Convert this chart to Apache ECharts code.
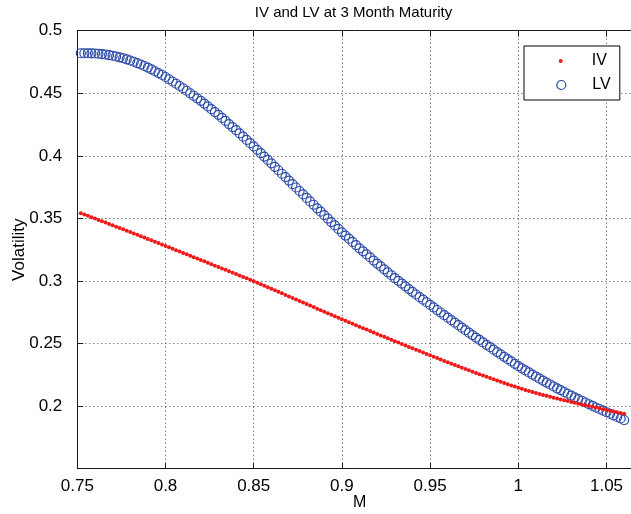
<!DOCTYPE html>
<html>
<head>
<meta charset="utf-8">
<script src="https://cdn.jsdelivr.net/npm/echarts@6/dist/echarts.min.js"></script>
<style>
html,body{margin:0;padding:0;background:#fff;}
#chart{width:631px;height:514px;}
</style>
</head>
<body>
<div id="chart"></div>
<script>
// Moneyness values
var M = [
0.752,0.754,0.756,0.758,0.760,
0.762,0.764,0.766,0.768,0.770,
0.772,0.774,0.776,0.778,0.780,
0.782,0.784,0.786,0.788,0.790,
0.792,0.794,0.796,0.798,0.800,
0.802,0.804,0.806,0.808,0.810,
0.812,0.814,0.816,0.818,0.820,
0.822,0.824,0.826,0.828,0.830,
0.832,0.834,0.836,0.838,0.840,
0.842,0.844,0.846,0.848,0.850,
0.852,0.854,0.856,0.858,0.860,
0.862,0.864,0.866,0.868,0.870,
0.872,0.874,0.876,0.878,0.880,
0.882,0.884,0.886,0.888,0.890,
0.892,0.894,0.896,0.898,0.900,
0.902,0.904,0.906,0.908,0.910,
0.912,0.914,0.916,0.918,0.920,
0.922,0.924,0.926,0.928,0.930,
0.932,0.934,0.936,0.938,0.940,
0.942,0.944,0.946,0.948,0.950,
0.952,0.954,0.956,0.958,0.960,
0.962,0.964,0.966,0.968,0.970,
0.972,0.974,0.976,0.978,0.980,
0.982,0.984,0.986,0.988,0.990,
0.992,0.994,0.996,0.998,1.000,
1.002,1.004,1.006,1.008,1.010,
1.012,1.014,1.016,1.018,1.020,
1.022,1.024,1.026,1.028,1.030,
1.032,1.034,1.036,1.038,1.040,
1.042,1.044,1.046,1.048,1.050,
1.052,1.054,1.056,1.058,1.060
];
// Implied volatility
var IV = [
0.3542,0.3531,0.3521,0.3510,0.3499,
0.3488,0.3477,0.3467,0.3456,0.3445,
0.3434,0.3423,0.3413,0.3402,0.3391,
0.3380,0.3369,0.3358,0.3347,0.3336,
0.3325,0.3314,0.3303,0.3291,0.3280,
0.3269,0.3258,0.3246,0.3235,0.3224,
0.3213,0.3202,0.3190,0.3179,0.3168,
0.3157,0.3145,0.3134,0.3122,0.3111,
0.3100,0.3089,0.3077,0.3066,0.3055,
0.3044,0.3032,0.3021,0.3009,0.2998,
0.2986,0.2974,0.2962,0.2950,0.2938,
0.2926,0.2914,0.2901,0.2889,0.2877,
0.2865,0.2853,0.2840,0.2828,0.2816,
0.2804,0.2792,0.2779,0.2767,0.2755,
0.2743,0.2731,0.2718,0.2706,0.2694,
0.2682,0.2670,0.2659,0.2647,0.2635,
0.2623,0.2612,0.2600,0.2589,0.2577,
0.2565,0.2554,0.2542,0.2531,0.2519,
0.2508,0.2496,0.2485,0.2473,0.2462,
0.2451,0.2440,0.2429,0.2417,0.2406,
0.2395,0.2384,0.2373,0.2361,0.2350,
0.2339,0.2328,0.2318,0.2307,0.2296,
0.2286,0.2275,0.2265,0.2254,0.2244,
0.2234,0.2224,0.2214,0.2204,0.2194,
0.2184,0.2175,0.2165,0.2156,0.2146,
0.2138,0.2129,0.2121,0.2113,0.2104,
0.2097,0.2089,0.2082,0.2074,0.2067,
0.2060,0.2053,0.2046,0.2040,0.2033,
0.2027,0.2020,0.2014,0.2008,0.2001,
0.1995,0.1989,0.1983,0.1976,0.1970,
0.1964,0.1958,0.1952,0.1945,0.1939
];
// Local volatility
var LV = [
0.4820,0.4820,0.4820,0.4819,0.4818,
0.4816,0.4813,0.4810,0.4805,0.4800,
0.4794,0.4787,0.4780,0.4771,0.4762,
0.4752,0.4741,0.4730,0.4718,0.4705,
0.4691,0.4676,0.4661,0.4646,0.4630,
0.4612,0.4594,0.4576,0.4558,0.4540,
0.4520,0.4500,0.4480,0.4460,0.4440,
0.4418,0.4395,0.4373,0.4350,0.4328,
0.4303,0.4279,0.4254,0.4230,0.4205,
0.4179,0.4153,0.4127,0.4101,0.4075,
0.4048,0.4021,0.3994,0.3967,0.3940,
0.3912,0.3885,0.3857,0.3830,0.3802,
0.3774,0.3747,0.3719,0.3692,0.3664,
0.3636,0.3609,0.3581,0.3554,0.3526,
0.3499,0.3471,0.3444,0.3416,0.3389,
0.3363,0.3338,0.3312,0.3287,0.3261,
0.3237,0.3212,0.3188,0.3163,0.3139,
0.3116,0.3093,0.3069,0.3046,0.3023,
0.3001,0.2979,0.2957,0.2935,0.2913,
0.2892,0.2871,0.2851,0.2830,0.2809,
0.2789,0.2768,0.2748,0.2727,0.2707,
0.2687,0.2667,0.2647,0.2627,0.2607,
0.2587,0.2568,0.2548,0.2529,0.2509,
0.2490,0.2471,0.2451,0.2432,0.2413,
0.2394,0.2375,0.2357,0.2338,0.2319,
0.2302,0.2285,0.2269,0.2252,0.2235,
0.2219,0.2204,0.2188,0.2173,0.2157,
0.2142,0.2128,0.2113,0.2099,0.2084,
0.2070,0.2056,0.2043,0.2029,0.2015,
0.2002,0.1989,0.1977,0.1964,0.1951,
0.1939,0.1926,0.1914,0.1901,0.1889
];
var TITLE = 'IV and LV at 3 Month Maturity';
var X_NAME = 'M';
var Y_NAME = 'Volatility';
var SERIES_NAMES = ['IV', 'LV'];

var FONT = 'Liberation Sans, Arial, Helvetica, sans-serif';
var ivData = M.map(function (m, i) { return [m, IV[i]]; });
var lvData = M.map(function (m, i) { return [m, LV[i]]; });

var axisLine = { show: true, lineStyle: { color: '#1a1a1a', width: 1 } };
var tick = { show: true, inside: true, length: 6, lineStyle: { color: '#1a1a1a', width: 1 } };
var grid = { show: true, lineStyle: { color: '#444', width: 1, type: [1, 3] } };

function legendText(gap) {
  return {
    fontFamily: FONT, fontSize: 16, color: '#000',
    rich: { g: { width: gap, fontSize: 16 }, n: { fontFamily: FONT, fontSize: 16, color: '#000' } }
  };
}

var chart = echarts.init(document.getElementById('chart'), null, { renderer: 'canvas' });
chart.setOption({
  animation: false,
  backgroundColor: '#fff',
  textStyle: { fontFamily: FONT },
  title: {
    text: TITLE,
    left: 353.5,
    top: 5,
    padding: 0,
    textAlign: 'center',
    textStyle: { fontFamily: FONT, fontSize: 15, fontWeight: 'normal', color: '#000' }
  },
  grid: { left: 77.3, top: 30.7, width: 564.5, height: 438, containLabel: false, outerBoundsMode: 'none' },
  legend: [
    {
      data: [SERIES_NAMES[0]],
      left: 524, top: 46,
      orient: 'vertical',
      padding: [7, 13, 31, 34.7],
      itemWidth: 4, itemHeight: 4,
      backgroundColor: '#fff',
      borderColor: '#000', borderWidth: 1, borderRadius: 0,
      formatter: function (name) { return '{g| }{n|' + name + '}'; },
      textStyle: legendText(24),
      selectedMode: false, z: 4
    },
    {
      data: [SERIES_NAMES[1]],
      left: 556.2, top: 77,
      orient: 'vertical',
      padding: 0,
      itemWidth: 9, itemHeight: 9,
      itemStyle: { borderWidth: 1.2 },
      formatter: function (name) { return '{g| }{n|' + name + '}'; },
      textStyle: legendText(21.5),
      selectedMode: false, z: 5
    }
  ],
  xAxis: [
    {
      type: 'value', position: 'bottom', min: 0.75, max: 1.07, interval: 0.05,
      axisLine: axisLine, axisTick: tick, splitLine: grid,
      axisLabel: { fontFamily: FONT, fontSize: 17, color: '#000', margin: 9, showMaxLabel: false },
      name: X_NAME, nameLocation: 'middle', nameGap: 26, nameMoveOverlap: false,
      nameTextStyle: { fontFamily: FONT, fontSize: 16, color: '#000' }
    },
    {
      type: 'value', position: 'top', min: 0.75, max: 1.07, interval: 0.05,
      axisLine: axisLine, axisTick: tick, splitLine: { show: false },
      axisLabel: { show: false }
    }
  ],
  yAxis: [
    {
      type: 'value', position: 'left', min: 0.15, max: 0.5, interval: 0.05,
      axisLine: axisLine, axisTick: tick, splitLine: grid,
      axisLabel: { fontFamily: FONT, fontSize: 17, color: '#000', margin: 15, showMinLabel: false },
      name: Y_NAME, nameLocation: 'middle', nameGap: 49, nameRotate: 90, nameMoveOverlap: false,
      nameTextStyle: { fontFamily: FONT, fontSize: 17, color: '#000' }
    },
    {
      type: 'value', position: 'right', min: 0.15, max: 0.5, interval: 0.05,
      axisLine: axisLine, axisTick: tick, splitLine: { show: false },
      axisLabel: { show: false }
    }
  ],
  series: [
    {
      name: SERIES_NAMES[1], type: 'scatter', xAxisIndex: 0, yAxisIndex: 0,
      data: lvData, symbol: 'circle', symbolSize: 9,
      itemStyle: { color: 'transparent', borderColor: '#2a4aa8', borderWidth: 1.2, opacity: 1 },
      emphasis: { disabled: true }, z: 2
    },
    {
      name: SERIES_NAMES[0], type: 'scatter', xAxisIndex: 0, yAxisIndex: 0,
      data: ivData, symbol: 'circle', symbolSize: 4,
      itemStyle: { color: '#f01818', opacity: 1 },
      emphasis: { disabled: true }, z: 3
    }
  ]
});
</script>
</body>
</html>
